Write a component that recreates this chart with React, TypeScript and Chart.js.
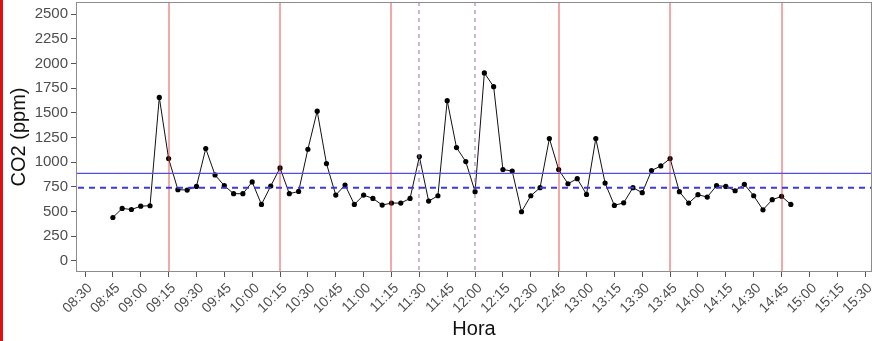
import React, { useEffect, useRef } from "react";
import { Chart, registerables } from "chart.js";

Chart.register(...registerables);

const times: string[] = [
  "08:45", "08:50", "08:55", "09:00", "09:05", "09:10", "09:15", "09:20", "09:25", "09:30",
  "09:35", "09:40", "09:45", "09:50", "09:55", "10:00", "10:05", "10:10", "10:15", "10:20",
  "10:25", "10:30", "10:35", "10:40", "10:45", "10:50", "10:55", "11:00", "11:05", "11:10",
  "11:15", "11:20", "11:25", "11:30", "11:35", "11:40", "11:45", "11:50", "11:55", "12:00",
  "12:05", "12:10", "12:15", "12:20", "12:25", "12:30", "12:35", "12:40", "12:45", "12:50",
  "12:55", "13:00", "13:05", "13:10", "13:15", "13:20", "13:25", "13:30", "13:35", "13:40",
  "13:45", "13:50", "13:55", "14:00", "14:05", "14:10", "14:15", "14:20", "14:25", "14:30",
  "14:35", "14:40", "14:45", "14:50",
];

const co2: number[] = [
  440, 532, 521, 555, 559, 1656, 1037, 722, 718, 755,
  1138, 871, 762, 681, 681, 800, 572, 759, 942, 681,
  704, 1131, 1517, 986, 667, 769, 572, 667, 633, 566,
  586, 586, 633, 1057, 606, 660, 1623, 1148, 1006, 701,
  1904, 1765, 925, 911, 498, 660, 742, 1240, 925, 782,
  833, 674, 1240, 789, 562, 589, 742, 691, 915, 962,
  1037, 701, 586, 671, 647, 762, 755, 711, 776, 660,
  518, 620, 654, 572,
];

const xTickLabels: string[] = [
  "08:30", "08:45", "09:00", "09:15", "09:30", "09:45", "10:00", "10:15", "10:30", "10:45",
  "11:00", "11:15", "11:30", "11:45", "12:00", "12:15", "12:30", "12:45", "13:00", "13:15",
  "13:30", "13:45", "14:00", "14:15", "14:30", "14:45", "15:00", "15:15", "15:30",
];

const yTickValues: number[] = [0, 250, 500, 750, 1000, 1250, 1500, 1750, 2000, 2250, 2500];

const redLineTimes: string[] = ["09:15", "10:15", "11:15", "12:45", "13:45", "14:45"];
const dashedLineTimes: string[] = ["11:30", "12:00"];
const solidLevel = 887;
const dashedLevel = 742;

const toMin = (s: string) => {
  const [h, m] = s.split(":").map(Number);
  return h * 60 + m;
};
const toLabel = (v: number) => {
  const h = Math.floor(v / 60);
  const m = Math.round(v - h * 60);
  return String(h).padStart(2, "0") + ":" + String(m).padStart(2, "0");
};

const FONT = "'Liberation Sans', Arial, sans-serif";

export default function App() {
  const ref = useRef<HTMLCanvasElement | null>(null);

  useEffect(() => {
    if (!ref.current) return;
    const refLines = {
      id: "refLines",
      afterDatasetsDraw(chart: any) {
        const { ctx, chartArea, scales } = chart;
        const xs = scales.x;
        const ys = scales.y;
        ctx.save();
        ctx.beginPath();
        ctx.rect(chartArea.left, chartArea.top, chartArea.right - chartArea.left, chartArea.bottom - chartArea.top);
        ctx.clip();
        ctx.strokeStyle = "rgba(228,50,50,0.85)";
        ctx.lineWidth = 1;
        ctx.setLineDash([]);
        for (const t of redLineTimes) {
          const px = Math.round(xs.getPixelForValue(toMin(t)));
          ctx.beginPath();
          ctx.moveTo(px, chartArea.top);
          ctx.lineTo(px, chartArea.bottom);
          ctx.stroke();
        }
        ctx.strokeStyle = "rgba(155,115,165,0.85)";
        ctx.lineWidth = 1.2;
        ctx.setLineDash([4, 4]);
        for (const t of dashedLineTimes) {
          const px = Math.round(xs.getPixelForValue(toMin(t)));
          ctx.beginPath();
          ctx.moveTo(px, chartArea.top);
          ctx.lineTo(px, chartArea.bottom);
          ctx.stroke();
        }
        ctx.setLineDash([]);
        ctx.strokeStyle = "#4f4fe8";
        ctx.lineWidth = 1.2;
        let py = ys.getPixelForValue(solidLevel);
        ctx.beginPath();
        ctx.moveTo(chartArea.left, py);
        ctx.lineTo(chartArea.right, py);
        ctx.stroke();
        ctx.setLineDash([6, 5]);
        ctx.strokeStyle = "#3a3ae0";
        ctx.lineWidth = 2;
        py = ys.getPixelForValue(dashedLevel);
        ctx.beginPath();
        ctx.moveTo(chartArea.left + 2, py);
        ctx.lineTo(chartArea.right, py);
        ctx.stroke();
        ctx.restore();

        ctx.save();
        ctx.strokeStyle = "#8c8c8c";
        ctx.lineWidth = 1;
        ctx.strokeRect(
          Math.round(chartArea.left) + 0.5,
          Math.round(chartArea.top) + 0.5,
          Math.round(chartArea.right - chartArea.left) - 1,
          Math.round(chartArea.bottom - chartArea.top) - 1
        );
        ctx.restore();
      },
    };

    const chart = new Chart(ref.current, {
      type: "line",
      data: {
        datasets: [
          {
            data: times.map((t, i) => ({ x: toMin(t), y: co2[i] })),
            borderColor: "#111",
            borderWidth: 1,
            pointBackgroundColor: "#000",
            pointBorderColor: "#000",
            pointRadius: 2.6,
            pointBorderWidth: 0,
            tension: 0,
          },
        ],
      },
      options: {
        animation: false,
        responsive: false,
        maintainAspectRatio: false,
        layout: { padding: { top: 3, right: -2, left: 0, bottom: 0 } },
        plugins: { legend: { display: false }, tooltip: { enabled: false } },
        scales: {
          x: {
            type: "linear",
            min: 505.15,
            max: 933.7,
            afterBuildTicks: (scale: any) => {
              scale.ticks = xTickLabels.map((l) => ({ value: toMin(l) }));
            },
            afterFit: (scale: any) => {
              scale.height = 69;
              scale.paddingLeft = 0;
              scale.paddingRight = 0;
            },
            ticks: {
              autoSkip: false,
              minRotation: 45,
              maxRotation: 45,
              padding: 3,
              labelOffset: 5,
              color: "#4d4d4d",
              font: { family: FONT, size: 14 },
              callback: (v: any) => toLabel(Number(v)),
            },
            grid: {
              display: true,
              drawOnChartArea: false,
              drawTicks: true,
              tickLength: 5,
              tickColor: "#555",
            },
            border: { display: false },
            title: {
              display: true,
              text: "Hora",
              color: "#111",
              font: { family: FONT, size: 20 },
              padding: { top: 0, bottom: 0 },
            },
          },
          y: {
            type: "linear",
            min: -111.8,
            max: 2622,
            afterBuildTicks: (scale: any) => {
              scale.ticks = yTickValues.map((v) => ({ value: v }));
            },
            afterFit: (scale: any) => {
              scale.width = 76;
              scale.paddingTop = 0;
              scale.paddingBottom = 0;
            },
            ticks: {
              padding: 3,
              color: "#4d4d4d",
              font: { family: FONT, size: 15 },
              callback: (v: any) => String(v),
            },
            grid: {
              display: true,
              drawOnChartArea: false,
              drawTicks: true,
              tickLength: 5,
              tickColor: "#555",
            },
            border: { display: false },
            title: {
              display: true,
              text: "CO2 (ppm)",
              color: "#111",
              font: { family: FONT, size: 20 },
              padding: { top: 7, bottom: 0 },
            },
          },
        },
      },
      plugins: [refLines],
    } as any);
    return () => chart.destroy();
  }, []);

  return (
    <div style={{ position: "fixed", left: 0, top: 0, width: 872, height: 341, background: "#fff", overflow: "hidden" }}>
      <canvas
        ref={ref}
        width={876}
        height={343}
        style={{ position: "absolute", left: 0, top: -2, display: "block", width: 876, height: 343 }}
      />
      <div style={{ position: "absolute", left: 0, top: 0, width: 3, height: 341, background: "#e01010" }} />
    </div>
  );
}
